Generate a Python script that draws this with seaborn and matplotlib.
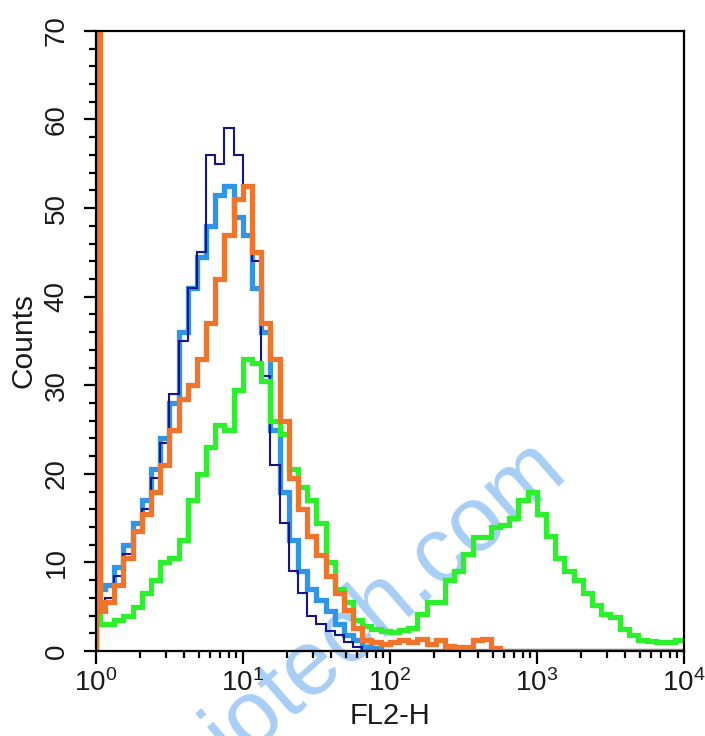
import numpy as np
import pandas as pd
import matplotlib
matplotlib.use("Agg")
import matplotlib.pyplot as plt
import matplotlib.ticker as mticker
import seaborn as sns

# ---- data (counts per log bin; first value = channel-0 spike) ----
dark_blue = [5, 5, 6, 8.5, 11, 13.5, 16, 19.5, 23.5, 29, 35, 41, 45, 56, 55, 59, 56, 52.5, 44, 31, 21,
             14.5, 9, 6.5, 4, 3, 2.3, 1.8, 1, 0.4, 0, 0, 0, 0, 0, 0, 0, 0, 0, 0, 0, 0, 0, 0, 0, 0,
             0, 0, 0, 0, 0, 0, 0, 0, 0, 0, 0, 0, 0, 0, 0, 0, 0, 0, 0]
light_blue = [38, 7, 7.5, 9.5, 12, 14.5, 17, 20.5, 24, 28, 36, 41, 44.5, 48, 51.5, 52.5, 49, 47, 41, 36, 25,
              18, 12.5, 9, 7, 5.7, 4.5, 3, 1.8, 1.2, 0.5, 0.3, 0, 0, 0, 0, 0, 0, 0, 0, 0, 0, 0, 0, 0, 0,
              0, 0, 0, 0, 0, 0, 0, 0, 0, 0, 0, 0, 0, 0, 0, 0, 0, 0, 0]
orange = [80, 4.5, 5.5, 7.5, 10.5, 13.5, 15.5, 18, 21, 25, 28.5, 30, 33, 37, 42, 47, 51, 52.5, 45, 37, 33,
          26, 19.5, 16, 13, 10.8, 8.5, 6.5, 4.6, 2.6, 1.2, 1, 0.8, 1, 1.2, 1, 1.3, 0.8, 1.2, 0.6, 0.5,
          0.4, 1.2, 1.3, 0.3, 0, 0, 0, 0, 0, 0, 0, 0, 0, 0, 0, 0, 0, 0, 0, 0, 0, 0, 0, 0]
green = [35, 3, 3, 3.5, 4, 5, 6.5, 8, 10, 10.5, 12.5, 17, 20, 23, 25.5, 25, 29.5, 33, 32.5, 30.5, 26,
         24.5, 20.5, 18.5, 17, 14.5, 10, 7, 5.5, 3.5, 2.8, 2.5, 2.3, 2.2, 2.4, 2.6, 4.2, 5.5, 5.5, 8, 9,
         11, 12.9, 12.9, 14, 14.2, 15, 17, 18, 15.5, 13, 10.5, 9, 8, 6.5, 5.2, 4.2, 3.8, 2.5, 1.8, 1.2,
         1.1, 1, 1, 1.2]

colors = {"dark blue": "#14148c", "light blue": "#2f95e6", "orange": "#f0742a", "green": "#2cf02c"}
widths = {"dark blue": 1.5, "light blue": 3.8, "orange": 3.8, "green": 3.8}

# bin edges in log10 units: narrow first channel, then 1/16-decade bins
log_edges = np.concatenate([[0.0, 1 / 32], np.arange(1, 65) / 16])
edges = 10 ** log_edges

sns.set_theme(style="ticks")
plt.rcParams["font.family"] = ["Liberation Sans", "DejaVu Sans"]
plt.rcParams["mathtext.fontset"] = "custom"
plt.rcParams["mathtext.rm"] = "Liberation Sans"
plt.rcParams["mathtext.it"] = "Liberation Sans"

fig = plt.figure(figsize=(7.05, 7.36), dpi=100)
fig.patch.set_facecolor("white")
ax = fig.add_axes([0.136, 0.1155, 0.834, 0.8425])
ax.set_facecolor("none")

data = {"dark blue": dark_blue, "light blue": light_blue, "orange": orange, "green": green}
order = ["light blue", "dark blue", "orange", "green"]
for name in order:
    vals = data[name]
    xs = np.concatenate([[edges[0]], edges])
    ys = np.concatenate([[0], vals, [vals[-1]]])
    df = pd.DataFrame({"x": xs, "y": ys})
    z = 2 if name != "orange" else 3
    sns.lineplot(data=df, x="x", y="y", ax=ax, estimator=None, sort=False,
                 drawstyle="steps-post", color=colors[name], linewidth=widths[name],
                 solid_joinstyle="miter", zorder=z)

ax.set_xscale("log")
ax.set_xlim(1, 1e4)
ax.set_ylim(0, 70)

ax.xaxis.set_major_locator(mticker.LogLocator(base=10, numticks=10))
ax.xaxis.set_minor_locator(mticker.LogLocator(base=10, subs=np.arange(2, 10), numticks=20))
ax.xaxis.set_major_formatter(mticker.LogFormatterSciNotation())
ax.xaxis.set_minor_formatter(mticker.NullFormatter())
ax.yaxis.set_major_locator(mticker.MultipleLocator(10))
ax.yaxis.set_minor_locator(mticker.MultipleLocator(2))

for s in ax.spines.values():
    s.set_visible(True)
    s.set_color("black")
    s.set_linewidth(1.6)
    s.set_zorder(4)

ax.tick_params(axis="both", which="major", direction="out", length=9, width=1.6,
               color="black", labelsize=20, labelcolor="#1a1a1a")
ax.tick_params(axis="both", which="minor", direction="out", length=5, width=1.6, color="black")
ax.tick_params(axis="x", which="major", pad=4)
ax.tick_params(axis="y", which="major", pad=10, labelrotation=90)
for lab in ax.get_yticklabels():
    lab.set_va("center")

ax.set_xlabel("FL2-H", fontsize=21, color="#1a1a1a", labelpad=4)
ax.set_ylabel("Counts", fontsize=21.5, color="#1a1a1a", labelpad=4)
ax.grid(False)

# watermark
fig.text(0.52, 0.161, "biotech.com", rotation=41, ha="center", va="center",
         fontsize=66, color="#a8cef5", zorder=-1, rotation_mode="anchor")

fig.savefig("out.png", dpi=100, facecolor="white")
